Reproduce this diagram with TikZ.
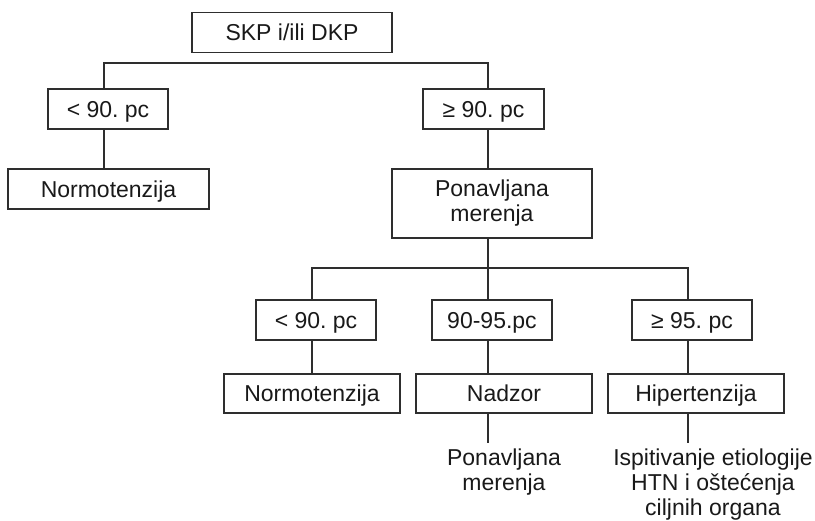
\documentclass[tikz,border=0pt]{standalone}
\usepackage{fontspec}
\setmainfont{Liberation Sans}
\frenchspacing
\begin{document}
\begin{tikzpicture}[x=1pt,y=-1pt,
  box/.style={draw=black!82, line width=1.5pt, inner sep=0pt, text=black!90,
    font=\fontsize{23}{25}\selectfont, text height=16.5pt, text depth=0pt,
    minimum height=40pt},
  mbox/.style={draw=black!82, line width=1.5pt, inner sep=0pt, text=black!90,
    font=\fontsize{23}{25}\selectfont, align=center},
  lbl/.style={inner sep=0pt, text=black!90, font=\fontsize{23}{25}\selectfont,
    align=center, anchor=north},
  conn/.style={draw=black!82, line width=1.5pt}]
\useasboundingbox (0,0) rectangle (815,521);
% boxes
\node[box, minimum width=200pt] (skp) at (292,32.5) {SKP i/ili DKP};
\node[box, minimum width=120pt] (lt90) at (108,109) {< 90. pc};
\node[box, minimum width=121pt] (ge90) at (483.5,109) {≥ 90. pc};
\node[box, minimum width=201pt] (norm1) at (108.5,189) {Normotenzija};
\node[mbox, minimum width=200pt, minimum height=69pt] (pon) at (492,203.5) {Ponavljana\\merenja};
\node[box, minimum width=120pt] (lt90b) at (316,320) {< 90. pc};
\node[box, minimum width=120pt] (mid) at (492,320) {90-95.pc};
\node[box, minimum width=120pt] (ge95) at (692,320) {≥ 95. pc};
\node[box, minimum width=176pt, minimum height=39pt] (norm2) at (312,393.5) {Normotenzija};
\node[box, minimum width=176pt, minimum height=39pt] (nadzor) at (504,393.5) {Nadzor};
\node[box, minimum width=176pt, minimum height=39pt] (hiper) at (696,393.5) {Hipertenzija};
\node[lbl] (pon2) at (504,449) {Ponavljana\\merenja};
\node[lbl] (isp) at (713,449) {Ispitivanje etiologije\\HTN i oštećenja\\ciljnih organa};
% junction coordinates
\coordinate (c1) at (104,63);
\coordinate (c2) at (488,63);
\coordinate (c3) at (312,268);
\coordinate (c4) at (688,268);
\coordinate (c5) at (488,268);
\coordinate (e1) at (488,443);
\coordinate (e2) at (688,443);
% connectors
\draw[conn] (lt90.north -| c1) -- (c1) -- (c2) -- (ge90.north -| c2);
\draw[conn] (lt90.south -| c1) -- (norm1.north -| c1);
\draw[conn] (ge90.south -| c2) -- (pon.north -| c2);
\draw[conn] (pon.south -| c5) -- (c5);
\draw[conn] (lt90b.north -| c3) -- (c3) -- (c4) -- (ge95.north -| c4);
\draw[conn] (c5) -- (mid.north -| c5);
\draw[conn] (lt90b.south -| c3) -- (norm2.north -| c3);
\draw[conn] (mid.south -| c5) -- (nadzor.north -| c5);
\draw[conn] (ge95.south -| c4) -- (hiper.north -| c4);
\draw[conn] (nadzor.south -| c5) -- (e1);
\draw[conn] (hiper.south -| c4) -- (e2);
\end{tikzpicture}
\end{document}
